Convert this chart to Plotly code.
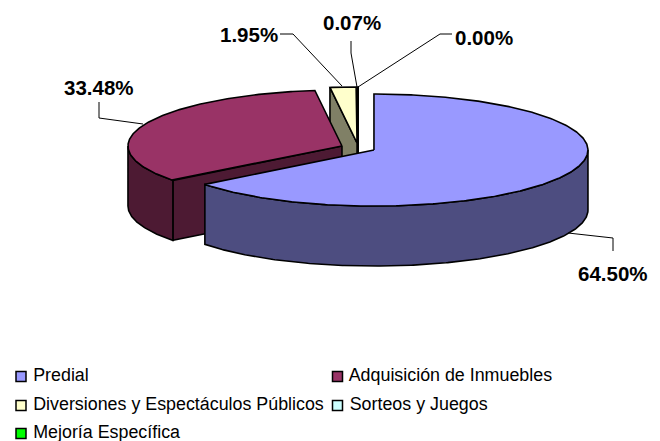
import numpy as np
import plotly.graph_objects as go

categories = ["Predial", "Adquisición de Inmuebles", "Diversiones y Espectáculos Públicos", "Sorteos y Juegos", "Mejoría Específica"]
shares = [64.50, 33.48, 1.95, 0.07, 0.00]
labels = ["64.50%", "33.48%", "1.95%", "0.07%", "0.00%"]
top_colors = ["#9999FF", "#993366", "#FFFFCC", "#CCFFFF", "#00FF00"]
side_colors = ["#4D4D80", "#4D1A33", "#808066", "#668080", "#008000"]

# Projection of the tilted pie on the 660x441 canvas
CX, CY = 358.2, 147.9
A, B = 214.0, 56.0
DEPTH = 60.0
EXPLODE = 17.55
KY = 0.28
OUT = "#000000"

fig = go.Figure()
cum = np.concatenate([[0], np.cumsum(shares)]) * 3.6
cum[-1] = 360.0


def center(i):
    mid = np.radians((cum[i] + cum[i + 1]) / 2)
    return CX + EXPLODE * np.sin(mid), CY - EXPLODE * KY * np.cos(mid)


def arc(i, t0, t1, dy=0.0):
    c = center(i)
    t = np.radians(np.linspace(t0, t1, max(int(abs(t1 - t0) * 2), 2)))
    return c[0] + A * np.sin(t), c[1] - B * np.cos(t) + dy


def poly(x, y, color, width=1.6):
    fig.add_trace(go.Scatter(x=list(x) + [x[0]], y=list(y) + [y[0]], mode="lines", fill="toself",
                             fillcolor=color, line=dict(color=OUT, width=width),
                             hoverinfo="skip", showlegend=False))


def radial_wall(i, t):
    c = center(i)
    ax, ay = arc(i, t, t)
    poly([c[0], ax[0], ax[0], c[0]], [c[1], ay[0], ay[0] + DEPTH, c[1] + DEPTH], side_colors[i])


def outer_wall(i, t0, t1):
    x0, y0 = arc(i, t0, t1)
    x1, y1 = arc(i, t0, t1, DEPTH)
    poly(np.r_[x0, x1[::-1]], np.r_[y0, y1[::-1]], side_colors[i])


def top(i):
    c = center(i)
    x, y = arc(i, cum[i], cum[i + 1])
    poly(np.r_[c[0], x], np.r_[c[1], y], top_colors[i])


# back slices first, front slices last
for i in [4, 3, 2]:
    radial_wall(i, cum[i])
    top(i)
radial_wall(1, cum[1])
outer_wall(1, cum[1], 270)
top(1)
outer_wall(0, 90, cum[1])
top(0)

# legend entries
legend_x = [21, 337.5, 21, 337.5, 21]
legend_y = [376.5, 376.5, 405.5, 405.5, 433.5]
for name, color, lx, ly in zip(categories, top_colors, legend_x, legend_y):
    fig.add_trace(go.Scatter(x=[lx], y=[ly], mode="markers+text", text=[" " + name], textposition="middle right",
                             textfont=dict(family="Liberation Sans", size=17.85, color="#000000"),
                             marker=dict(symbol="square", size=10, color=color, line=dict(color="#000000", width=1.5)),
                             hoverinfo="skip", showlegend=False))

# leader lines
leaders = [
    [(568, 233), (613, 238), (613, 251)],
    [(143, 124), (99, 118), (99, 102)],
    [(342, 86), (293, 34), (280, 34)],
    [(357, 87), (351, 53), (351, 41)],
    [(358, 87), (440, 34), (452, 34)],
]
for pts in leaders:
    fig.add_trace(go.Scatter(x=[p[0] for p in pts], y=[p[1] for p in pts], mode="lines",
                             line=dict(color="#000000", width=1), hoverinfo="skip", showlegend=False))

label_xy = [(613, 273.5), (99, 87), (249, 34), (352, 22), (484, 37)]
for text, (lx, ly) in zip(labels, label_xy):
    fig.add_annotation(x=lx, y=ly, text=f"<b>{text}</b>", showarrow=False,
                       font=dict(family="Liberation Sans", size=20.5, color="#000000"))

fig.update_layout(
    width=660, height=441, margin=dict(l=0, r=0, t=0, b=0),
    paper_bgcolor="#FFFFFF", plot_bgcolor="#FFFFFF",
    xaxis=dict(range=[0, 660], visible=False, fixedrange=True),
    yaxis=dict(range=[441, 0], visible=False, fixedrange=True),
    showlegend=False,
)
fig.write_html("out.html", config={"displayModeBar": False},
               post_script="document.body.style.margin='0';document.body.style.overflow='hidden';")
